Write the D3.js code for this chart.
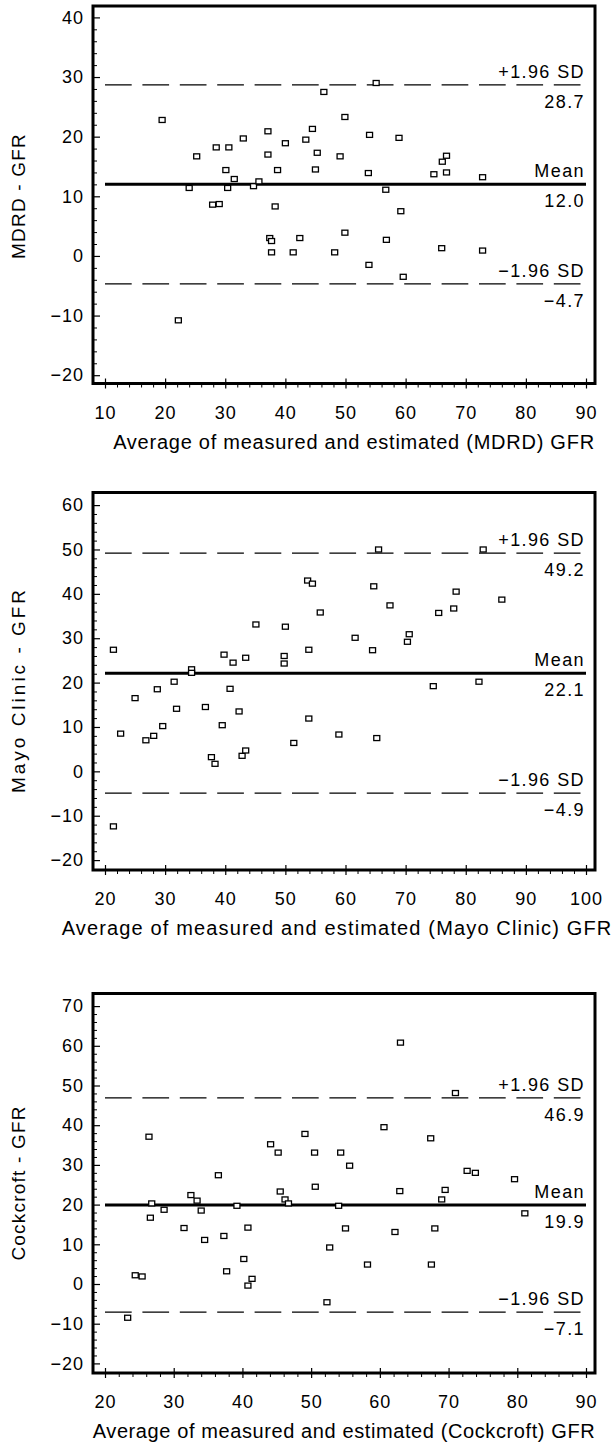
<!DOCTYPE html>
<html><head><meta charset="utf-8">
<script src="https://cdn.jsdelivr.net/npm/d3@7"></script>
<style>
html,body{margin:0;padding:0;background:#fff;}
svg{display:block;}
text{font-family:"Liberation Sans", Arial, Helvetica, sans-serif; fill:#000;}
</style></head>
<body><svg id="c" width="613" height="1448"></svg>
<script>
// ---------- DATA ----------
const mdrdPoints = [[19.5,22.8],[22.2,-10.8],[24.0,11.4],[25.25,16.7],[27.9,8.6],[29.0,8.7],[28.5,18.2],[30.6,18.2],[30.1,14.4],[30.4,11.4],[31.5,12.9],[33.0,19.7],[34.7,11.7],[35.6,12.5],[37.1,20.9],[37.1,17.0],[38.7,14.4],[38.3,8.3],[37.4,3.0],[37.7,2.5],[37.7,0.6],[40.0,18.9],[41.3,0.6],[42.4,3.0],[43.4,19.5],[44.5,21.3],[46.4,27.5],[55.1,29.0],[49.9,23.3],[45.3,17.3],[45.0,14.5],[49.1,16.7],[54.0,20.3],[58.9,19.8],[53.8,13.9],[56.7,11.1],[59.2,7.5],[49.9,3.9],[56.8,2.7],[48.2,0.6],[53.9,-1.5],[59.6,-3.5],[64.7,13.7],[66.1,15.8],[66.8,16.8],[66.8,14.0],[66.0,1.3],[72.8,13.2],[72.8,0.9]];
const mayoPoints = [[21.4,27.4],[21.4,-12.4],[22.6,8.5],[25.0,16.5],[26.8,7.0],[28.1,8.0],[28.7,18.5],[29.6,10.2],[31.5,20.2],[31.9,14.1],[34.4,23.0],[34.4,22.2],[36.7,14.5],[37.7,3.2],[38.3,1.7],[39.5,10.4],[39.8,26.3],[40.8,18.6],[41.3,24.5],[42.3,13.5],[42.8,3.5],[43.4,4.7],[43.4,25.6],[45.1,33.1],[50.0,32.6],[49.8,26.0],[49.8,24.3],[51.4,6.4],[53.9,11.9],[53.9,27.4],[53.7,43.0],[54.5,42.3],[55.8,35.8],[65.5,50.0],[82.9,50.0],[64.7,41.7],[67.4,37.4],[78.4,40.5],[78.0,36.7],[75.5,35.7],[86.0,38.7],[61.6,30.1],[70.6,30.9],[70.3,29.2],[64.5,27.3],[74.6,19.2],[82.2,20.2],[58.9,8.3],[65.2,7.5]];
const cockPoints = [[23.3,-8.5],[24.4,2.2],[25.4,1.9],[26.4,37.1],[26.6,16.7],[26.8,20.3],[28.6,18.7],[31.5,14.1],[32.5,22.4],[33.4,21.0],[34.0,18.5],[34.5,11.1],[36.5,27.4],[37.3,12.1],[37.7,3.2],[39.2,19.7],[40.2,6.3],[40.8,14.2],[40.8,-0.4],[41.4,1.3],[44.1,35.2],[45.2,33.1],[45.5,23.3],[46.2,21.3],[46.7,20.3],[49.1,37.8],[63.0,60.8],[71.0,48.1],[60.6,39.5],[67.4,36.7],[50.5,33.1],[54.3,33.1],[55.6,29.8],[72.7,28.5],[73.9,28.0],[79.6,26.4],[50.6,24.5],[62.9,23.4],[69.5,23.7],[69.0,21.3],[54.0,19.7],[81.1,17.8],[55.0,14.0],[62.2,13.1],[68.0,14.0],[52.7,9.2],[58.2,4.9],[67.5,4.9],[52.3,-4.6]];

const mdrdLines = [28.7, 12.0, -4.7];   // +1.96 SD, mean, -1.96 SD
const mayoLines = [49.2, 22.1, -4.9];
const cockLines = [46.9, 19.9, -7.1];
const lineLabels = ["+1.96 SD", "Mean", "\u22121.96 SD"];

const mdrdXTicks = [10,20,30,40,50,60,70,80,90];
const mdrdYTicks = [-20,-10,0,10,20,30,40];
const mayoXTicks = [20,30,40,50,60,70,80,90,100];
const mayoYTicks = [-20,-10,0,10,20,30,40,50,60];
const cockXTicks = [20,30,40,50,60,70,80,90];
const cockYTicks = [-20,-10,0,10,20,30,40,50,60,70];

const yTitles = ["MDRD - GFR", "Mayo Clinic - GFR", "Cockcroft - GFR"];
const xTitles = ["Average of measured and estimated (MDRD) GFR",
                 "Average of measured and estimated (Mayo Clinic) GFR",
                 "Average of measured and estimated (Cockcroft) GFR"];

// ---------- LAYOUT ----------
const panels = [
  {pts: mdrdPoints, lines: mdrdLines, xt: mdrdXTicks, yt: mdrdYTicks, top: 6, bottom: 383.5, yPx: [375.2, 17.4],
   xtCx: 354, xtLs: 0.75, ytCy: 196, ytLs: 1.2},
  {pts: mayoPoints, lines: mayoLines, xt: mayoXTicks, yt: mayoYTicks, top: 492.5, bottom: 870, yPx: [860.1, 505.1],
   xtCx: 337, xtLs: 1.15, ytCy: 690, ytLs: 3.0},
  {pts: cockPoints, lines: cockLines, xt: cockXTicks, yt: cockYTicks, top: 993.5, bottom: 1373, yPx: [1363.4, 1006.1],
   xtCx: 344, xtLs: 0.6, ytCy: 1183, ytLs: 1.2}
];
const frameL = 93, frameR = 595, xPx = [105, 586];
const minus = s => s.replace(/-/g, "\u2212");
const fmt = d3.format(".1f");
const FONT = '"Liberation Sans", Arial, sans-serif';

const svg = d3.select("#c");

panels.forEach((p, i) => {
  const g = svg.append("g");
  const x = d3.scaleLinear().domain([p.xt[0], p.xt[p.xt.length-1]]).range(xPx);
  const y = d3.scaleLinear().domain([p.yt[0], p.yt[p.yt.length-1]]).range(p.yPx);
  const xMinor = d3.range(p.xt[0], p.xt[p.xt.length-1] + 0.001, 2).filter(v => v % 10 !== 0);
  const yMinor = d3.range(p.yt[0], p.yt[p.yt.length-1] + 0.001, 2).filter(v => v % 10 !== 0);

  // x axis (bottom) major ticks outward with labels
  const xa = g.append("g").attr("transform", `translate(0,${p.bottom})`)
    .call(d3.axisBottom(x).tickValues(p.xt).tickSize(5).tickFormat(d3.format("d")));
  xa.select(".domain").remove();
  xa.selectAll(".tick line").attr("stroke", "#000").attr("stroke-width", 1.2);
  xa.selectAll(".tick text").attr("y", 35).attr("dy", 0)
    .style("font-size", "18px").style("letter-spacing", "1px")
    .style("font-family", FONT).attr("fill", "#000");
  const xa2 = g.append("g").attr("transform", `translate(0,${p.bottom})`)
    .call(d3.axisTop(x).tickValues(p.xt).tickSize(5).tickFormat(""));
  xa2.select(".domain").remove();
  xa2.selectAll(".tick line").attr("stroke", "#000").attr("stroke-width", 1.2);
  const xm = g.append("g").attr("transform", `translate(0,${p.bottom})`)
    .call(d3.axisBottom(x).tickValues(xMinor).tickSize(4).tickFormat(""));
  xm.select(".domain").remove();
  xm.selectAll(".tick line").attr("stroke", "#000").attr("stroke-width", 1);

  // y axis ticks inward
  const ya = g.append("g").attr("transform", `translate(${frameL},0)`)
    .call(d3.axisLeft(y).tickValues(p.yt).tickSize(-7).tickPadding(9).tickFormat(v => minus(String(v))));
  ya.select(".domain").remove();
  ya.selectAll(".tick line").attr("stroke", "#000").attr("stroke-width", 1.2);
  ya.selectAll(".tick text").style("font-size", "18px").style("letter-spacing", "1px")
    .style("font-family", FONT).attr("fill", "#000");
  const ym = g.append("g").attr("transform", `translate(${frameL},0)`)
    .call(d3.axisLeft(y).tickValues(yMinor).tickSize(-4).tickFormat(""));
  ym.select(".domain").remove();
  ym.selectAll(".tick line").attr("stroke", "#000").attr("stroke-width", 1);

  // frame
  g.append("rect").attr("x", frameL).attr("y", p.top)
    .attr("width", frameR - frameL).attr("height", p.bottom - p.top)
    .attr("fill", "none").attr("stroke", "#000").attr("stroke-width", 3);

  // reference lines
  const x0 = x(p.xt[0]), x1 = x(p.xt[p.xt.length-1]);
  p.lines.forEach((v, k) => {
    g.append("line").attr("x1", x0).attr("x2", x1).attr("y1", y(v)).attr("y2", y(v))
      .attr("stroke", "#000")
      .attr("stroke-width", k === 1 ? 3 : 1.2)
      .attr("stroke-dasharray", k === 1 ? null : "26.7 10.7");
    g.append("text").attr("x", 585).attr("y", y(v) - 7).attr("text-anchor", "end")
      .style("font-size", "18px").style("letter-spacing", "1.4px").text(lineLabels[k]);
    g.append("text").attr("x", 585).attr("y", y(v) + 23).attr("text-anchor", "end")
      .style("font-size", "18px").style("letter-spacing", "1.4px").text(minus(fmt(v)));
  });

  // points
  g.selectAll("rect.pt").data(p.pts).enter().append("rect").attr("class", "pt")
    .attr("x", d => x(d[0]) - 3).attr("y", d => y(d[1]) - 2.5)
    .attr("width", 6).attr("height", 5)
    .attr("fill", "#fff").attr("stroke", "#000").attr("stroke-width", 1.3);

  // titles
  g.append("text").attr("x", p.xtCx).attr("y", p.bottom + 65)
    .attr("text-anchor", "middle").style("font-size", "20px").style("letter-spacing", p.xtLs + "px")
    .text(xTitles[i]);
  g.append("text").attr("transform", `translate(25,${p.ytCy}) rotate(-90)`)
    .attr("text-anchor", "middle").style("font-size", "19px").style("letter-spacing", p.ytLs + "px")
    .text(yTitles[i]);
});
</script></body></html>
